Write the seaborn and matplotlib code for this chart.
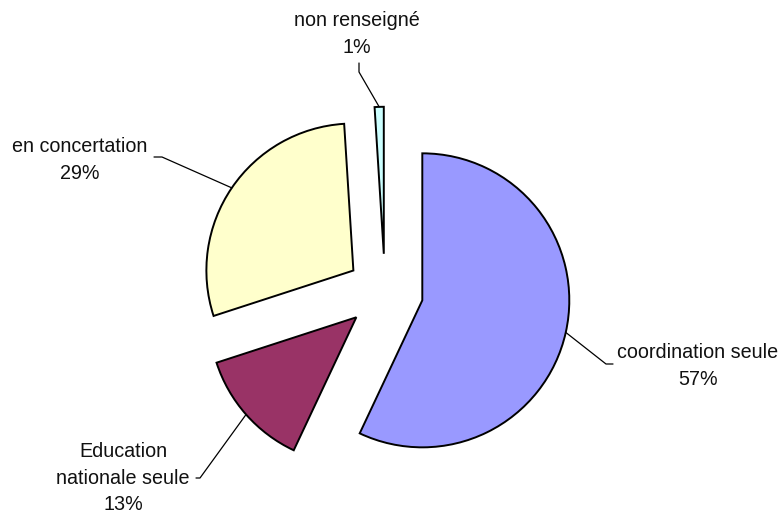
import numpy as np
import matplotlib
matplotlib.use("Agg")
import matplotlib.pyplot as plt
import seaborn as sns

# Data (clockwise from 12 o'clock)
categories = ["coordination seule", "Education\nnationale seule", "en concertation", "non renseigné"]
values = [57, 13, 29, 1]
colors = ["#9999FF", "#993366", "#FFFFCC", "#CCFFFF"]

sns.set_theme(style="white")
plt.rcParams['font.family'] = ['Liberation Sans', 'DejaVu Sans']

W, H = 782, 513
fig = plt.figure(figsize=(W / 100, H / 100), dpi=100)
ax = fig.add_axes([0, 0, 1, 1])

cx, cy, R = 385, 292, 147  # pie centre and radius in pixels (layout)
explode = [0.26] * len(values)

wedges, _ = ax.pie(values, colors=colors, startangle=90, counterclock=False,
                   explode=explode, radius=1,
                   wedgeprops=dict(edgecolor="black", linewidth=1.4))

ax.set_xlim(-cx / R, (W - cx) / R)
ax.set_ylim(-(H - cy) / R, cy / R)
ax.set_aspect("auto")
ax.axis("off")


def px(x, y):
    return (x - cx) / R, (cy - y) / R

# label layout: (text position px, elbow px, end px, ha)
layout = [
    ((617, 366), (606, 364), (613, 364), "left"),
    ((123, 478), (200, 478), (196, 478), "center"),
    ((80, 160), (162, 157), (154, 157), "center"),
    ((357, 34), (359, 72), (359, 63), "center"),
]

for w, cat, v, (tp, el, en, ha) in zip(wedges, categories, values, layout):
    mid = np.deg2rad((w.theta1 + w.theta2) / 2)
    ax_, ay_ = w.center[0] + w.r * np.cos(mid), w.center[1] + w.r * np.sin(mid)
    ex, ey = px(*el)
    nx, ny = px(*en)
    ax.plot([ax_, ex, nx], [ay_, ey, ny], color="black", lw=0.9)
    tx, ty = px(*tp)
    ax.text(tx, ty, f"{cat}\n{v}%", ha=ha, va="center", multialignment="center",
            fontsize=14.2, linespacing=1.5, color="#111111")

fig.savefig("out.png", dpi=100, facecolor="white")
